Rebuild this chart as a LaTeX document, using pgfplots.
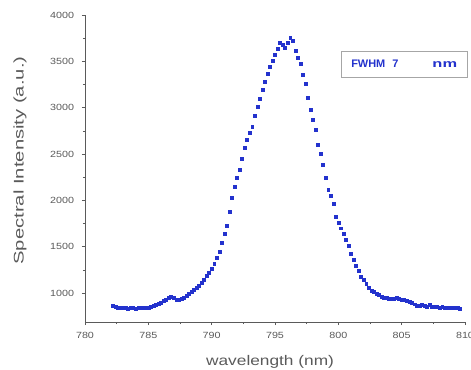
\documentclass[border=0pt]{standalone}
\usepackage{pgfplots}
\pgfplotsset{compat=1.18}
\usepackage{fontspec}
\setmainfont{Liberation Sans}
\definecolor{dotblue}{RGB}{35,50,205}
\definecolor{axgray}{RGB}{90,90,90}
\begin{document}
\begin{tikzpicture}
\begin{axis}[
  scale only axis, width=380bp, height=307bp,
  at={(0,0)}, anchor=south west,
  xmin=780, xmax=810, ymin=688, ymax=4000,
  axis x line*=bottom, axis y line*=left,
  axis line style={axgray, line width=0.9pt},
  xtick={780,785,...,810}, minor x tick num=1,
  ytick={1000,1500,...,4000}, minor y tick num=1,
  tick align=outside, major tick length=3bp, minor tick length=2bp,
  tick style={axgray, line width=0.7pt},
  /pgf/number format/assume math mode=true,
  /pgf/number format/1000 sep={},
  ticklabel style={font=\fontsize{9}{10}\selectfont, text=axgray, xscale=1.2},
  xticklabel style={yshift=-4bp},
  yticklabel style={xshift=-3bp},
  xlabel={\scalebox{1.24}[1]{wavelength (nm)}},
  ylabel={\scalebox{1.45}[1]{Spectral Intensity (a.u.)}},
  label style={font=\fontsize{14}{16}\selectfont, text=axgray},
  xlabel style={at={(axis description cs:0.487,-0.130)}, anchor=center},
  ylabel style={at={(axis description cs:-0.171,0.526)}, anchor=center, rotate=0},
  clip=false,
]
\addplot[only marks, mark=square*, mark size=1.5pt, color=dotblue] table {
x y
782.2 860
782.4 850
782.6 845
782.8 840
783.0 838
783.2 840
783.4 836
783.6 838
783.8 840
784.0 835
784.2 838
784.4 840
784.6 842
784.8 840
785.0 845
785.2 850
785.4 860
785.6 872
785.8 885
786.0 900
786.2 915
786.4 930
786.6 950
786.8 960
787.0 945
787.2 930
787.4 925
787.6 935
787.8 950
788.0 970
788.2 990
788.4 1010
788.6 1035
788.8 1055
789.0 1080
789.2 1110
789.4 1145
789.6 1185
789.8 1220
790.0 1260
790.2 1320
790.4 1380
790.6 1450
790.8 1540
791.0 1640
791.2 1730
791.4 1880
791.6 2030
791.8 2150
792.0 2250
792.2 2330
792.4 2450
792.6 2570
792.8 2650
793.0 2730
793.2 2800
793.4 2910
793.6 3010
793.8 3100
794.0 3190
794.2 3280
794.4 3370
794.6 3440
794.8 3510
795.0 3570
795.2 3640
795.4 3700
795.6 3680
795.8 3650
796.0 3700
796.2 3750
796.4 3720
796.6 3610
796.8 3540
797.0 3470
797.2 3360
797.4 3260
797.6 3110
797.8 2980
798.0 2870
798.2 2760
798.4 2600
798.6 2500
798.8 2380
799.0 2250
799.2 2110
799.4 2050
799.6 1960
799.8 1820
800.0 1760
800.2 1700
800.4 1640
800.6 1580
800.8 1510
801.0 1430
801.2 1360
801.4 1300
801.6 1240
801.8 1180
802.0 1140
802.2 1100
802.4 1060
802.6 1030
802.8 1010
803.0 995
803.2 980
803.4 965
803.6 955
803.8 948
804.0 943
804.2 938
804.4 940
804.6 945
804.8 940
805.0 932
805.2 925
805.4 915
805.6 905
805.8 895
806.0 880
806.2 865
806.4 860
806.6 870
806.8 862
807.0 855
807.2 870
807.4 858
807.6 850
807.8 852
808.0 846
808.2 850
808.4 845
808.6 842
808.8 845
809.0 840
809.2 838
809.4 840
809.6 835
};
\node[draw=gray!70, line width=0.8pt, fill=white, text=dotblue, font=\fontsize{11}{12}\selectfont\bfseries,
  minimum width=126bp, minimum height=26bp, inner sep=2pt]
  at (axis cs:805.2,3470) {FWHM\hspace{7bp}7\hspace{34bp}\scalebox{1.5}[1]{nm}};
\end{axis}
\pgfresetboundingbox
\path (-85bp,-48bp) rectangle (386bp,322bp);
\end{tikzpicture}
\end{document}
